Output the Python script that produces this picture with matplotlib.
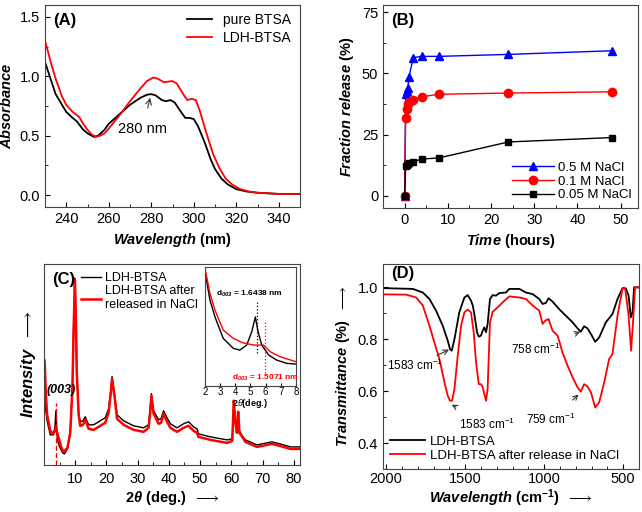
import matplotlib
matplotlib.use("Agg")
import matplotlib.pyplot as plt
from matplotlib.ticker import AutoMinorLocator, MultipleLocator

plt.rcParams['font.family'] = ['Liberation Sans', 'DejaVu Sans']
plt.rcParams['font.size'] = 10.5
plt.rcParams['mathtext.fontset'] = 'custom'
plt.rcParams['mathtext.rm'] = 'Liberation Sans'
plt.rcParams['mathtext.it'] = 'Liberation Sans:italic'
plt.rcParams['mathtext.bf'] = 'Liberation Sans:bold'
plt.rcParams['mathtext.bfit'] = 'Liberation Sans:italic:bold'
plt.rcParams['mathtext.fallback'] = 'stixsans'
plt.rcParams['xtick.direction'] = 'in'
plt.rcParams['ytick.direction'] = 'in'
plt.rcParams['axes.edgecolor'] = '#444444'

# ---- (A) UV-vis ----
uv_wl_black = [230, 235, 240, 243, 245, 248, 250, 253, 255, 258, 260, 265, 270, 275, 278, 280,
               282, 285, 287, 289, 291, 294, 296, 298, 300, 302, 305, 308, 310, 313, 316, 320,
               325, 330, 340, 350]
uv_abs_black = [1.12, 0.85, 0.70, 0.65, 0.62, 0.55, 0.52, 0.49, 0.50, 0.55, 0.60, 0.68, 0.76,
                0.82, 0.845, 0.85, 0.84, 0.80, 0.79, 0.80, 0.78, 0.70, 0.65, 0.65, 0.64, 0.58,
                0.45, 0.30, 0.22, 0.14, 0.09, 0.05, 0.03, 0.02, 0.01, 0.01]
uv_wl_red = [230, 233, 235, 238, 240, 243, 246, 248, 250, 252, 254, 256, 258, 260, 265, 270,
             275, 278, 281, 283, 286, 288, 290, 292, 295, 297, 299, 301, 303, 306, 309, 312,
             315, 318, 322, 326, 330, 340, 350]
uv_abs_red = [1.30, 1.10, 0.98, 0.83, 0.76, 0.70, 0.66, 0.60, 0.55, 0.51, 0.49, 0.50, 0.52,
              0.56, 0.67, 0.79, 0.90, 0.96, 0.99, 0.98, 0.95, 0.955, 0.96, 0.94, 0.85, 0.80,
              0.81, 0.80, 0.70, 0.52, 0.35, 0.23, 0.14, 0.09, 0.05, 0.03, 0.02, 0.01, 0.01]

# ---- (B) release ----
time_h = [0, 0.25, 0.5, 0.75, 1, 2, 4, 8, 24, 48]
rel_05 = [0, 41.5, 43, 44, 48.5, 56.5, 57, 57, 57.8, 59.3]
rel_01 = [0, 32, 35.5, 37.5, 38.5, 39, 40.5, 41.5, 42, 42.5]
rel_005 = [0, 12, 12.5, 13, 13.5, 14, 15, 15.5, 22, 23.8]

# ---- (C) XRD ----
xrd_2t_black = [0.2, 1.0, 2.0, 3.0, 3.5, 3.8, 4.1, 4.3, 5.0, 6.0, 6.5, 7.5, 8.4, 9.1, 9.5, 9.9,
                10.2, 10.5, 11.1, 11.6, 12.5, 13.2, 14.3, 15.9, 17.5, 19.6, 20.7, 21.4, 21.8,
                22.6, 23.4, 25.5, 28.7, 31.9, 33.5, 34.0, 34.4, 35.1, 36.7, 37.5, 38.3, 39.4,
                40.5, 42.6, 44.7, 46.3, 47.9, 49.0, 49.5, 53.3, 58.6, 60.3, 60.8, 61.3, 61.8,
                62.2, 62.6, 63.5, 64.5, 68.2, 73.0, 75.6, 78.9, 82.0]
xrd_int_black = [32, 22, 15, 15, 19, 27, 18, 12.5, 9, 6, 5.5, 8, 16, 39, 70, 93, 75, 47, 26,
                 21.5, 22, 24, 20, 20, 21.5, 23.5, 28, 37, 44, 35, 25, 22, 19.5, 18.5, 20, 28,
                 35.5, 27, 22.5, 23, 27, 23.5, 20.5, 18.5, 20.5, 21.5, 19, 18, 15.5, 14, 12.5,
                 13, 31, 22, 17, 25.5, 17, 14.5, 12.5, 10, 11.5, 10.5, 9, 9]
xrd_2t_red = [0.2, 0.6, 1.0, 2.0, 3.0, 3.8, 4.5, 5.5, 6.3, 7.5, 8.4, 9.1, 9.5, 9.9, 10.2, 10.5,
              11.1, 11.6, 12.5, 13.2, 14.3, 15.9, 17.5, 19.6, 20.7, 21.4, 21.8, 22.6, 23.4,
              25.5, 28.7, 31.9, 33.5, 34.0, 34.4, 35.1, 36.7, 37.5, 38.3, 39.4, 40.5, 42.6,
              44.7, 46.3, 47.9, 49.0, 49.5, 53.3, 58.6, 60.3, 60.8, 61.3, 61.8, 62.2, 62.6,
              63.5, 64.5, 68.2, 73.0, 75.6, 78.9, 82.0]
xrd_int_red = [52, 35, 25, 17, 15.5, 18.5, 14.5, 9, 6.5, 8.5, 16, 38, 68, 92, 74, 46, 25,
               19.5, 20, 22.5, 18, 17.5, 19, 21, 26, 36, 43, 34, 23, 20, 17.5, 16.5, 18.5, 26,
               34.5, 25.5, 20.5, 21, 25.5, 21.5, 18.5, 16.5, 18.5, 19.5, 17, 16, 14, 12.5, 11,
               12, 32, 21, 16, 26.5, 16, 14, 11.5, 9, 10.5, 9.5, 8, 8]

# inset (low angle)
ins_2t_black = [2.0, 2.33, 2.66, 3.2, 3.87, 4.3, 4.75, 5.08, 5.32, 5.5, 5.74, 6.2, 6.72, 7.4, 8.0]
ins_int_black = [96, 72, 58, 40, 31.6, 30.2, 34.4, 45.5, 58, 45.5, 34.4, 26, 21.8, 19, 18.4]
ins_2t_red = [2.0, 2.33, 2.66, 3.2, 3.87, 4.5, 5.2, 5.85, 6.3, 6.95, 8.0]
ins_int_red = [98.6, 77.7, 63.7, 47, 40, 36.3, 34.4, 34.4, 28.8, 24.6, 20.4]

# ---- (D) FTIR ----
ir_wn_black = [2021, 1831, 1768, 1726, 1684, 1642, 1610, 1596, 1585, 1568, 1537, 1505, 1484,
               1463, 1452, 1442, 1425, 1414, 1400, 1389, 1379, 1368, 1358, 1343, 1326, 1305,
               1284, 1242, 1221, 1157, 1115, 1073, 1031, 1010, 989, 972, 947, 905, 862, 820,
               789, 768, 747, 726, 704, 677, 652, 610, 568, 536, 504, 483, 466, 452, 441, 431,
               403]
ir_tr_black = [0.997, 0.994, 0.98, 0.955, 0.91, 0.852, 0.794, 0.762, 0.756, 0.80, 0.904, 0.961,
               0.97, 0.949, 0.93, 0.897, 0.827, 0.81, 0.814, 0.833, 0.846, 0.827, 0.859, 0.955,
               0.97, 0.968, 0.978, 0.98, 0.994, 0.994, 0.98, 0.974, 0.955, 0.936, 0.94, 0.958,
               0.945, 0.916, 0.89, 0.865, 0.842, 0.829, 0.85, 0.842, 0.82, 0.79, 0.807, 0.865,
               0.897, 0.955, 0.997, 0.996, 0.968, 0.884, 0.904, 1.0, 1.0]
ir_wn_red = [2021, 1874, 1810, 1768, 1726, 1695, 1663, 1631, 1610, 1596, 1583, 1568, 1547,
             1526, 1505, 1484, 1463, 1446, 1431, 1414, 1400, 1389, 1379, 1368, 1358, 1343,
             1326, 1294, 1263, 1221, 1157, 1115, 1073, 1031, 1010, 993, 972, 947, 915, 884,
             852, 820, 789, 768, 747, 726, 704, 677, 652, 620, 589, 568, 536, 504, 487, 466,
             450, 438, 425, 403]
ir_tr_red = [0.973, 0.972, 0.961, 0.93, 0.852, 0.788, 0.724, 0.634, 0.582, 0.563, 0.563, 0.608,
             0.737, 0.852, 0.904, 0.914, 0.904, 0.827, 0.711, 0.627, 0.627, 0.615, 0.589, 0.563,
             0.608, 0.865, 0.906, 0.923, 0.942, 0.965, 0.961, 0.955, 0.93, 0.91, 0.859, 0.872,
             0.878, 0.833, 0.814, 0.749, 0.698, 0.653, 0.615, 0.598, 0.627, 0.618, 0.595,
             0.537, 0.557, 0.634, 0.724, 0.743, 0.891, 0.997, 0.994, 0.891, 0.756, 0.865, 1.0,
             1.0]

W, H = 642, 512
fig = plt.figure(figsize=(6.42, 5.12), dpi=100)


def px_axes(x0, y0, x1, y1):
    return fig.add_axes([x0 / W, 1 - y1 / H, (x1 - x0) / W, (y1 - y0) / H])


ARROW = r'$\longrightarrow$'

axA = px_axes(45, 5, 300, 207)
axB = px_axes(383, 5, 638, 208)
axC = px_axes(44, 264, 300, 465)
axD = px_axes(383, 264, 639, 469)

# (A)
axA.plot(uv_wl_black, uv_abs_black, color='black', lw=1.3, label='pure BTSA')
axA.plot(uv_wl_red, uv_abs_red, color='red', lw=1.3, label='LDH-BTSA')
axA.set_xlim(230, 350)
axA.set_ylim(-0.1, 1.6)
axA.xaxis.set_major_locator(MultipleLocator(20))
axA.xaxis.set_minor_locator(AutoMinorLocator(2))
axA.yaxis.set_major_locator(MultipleLocator(0.5))
axA.yaxis.set_minor_locator(AutoMinorLocator(2))
axA.set_xlabel(r'$\mathbfit{Wavelength}$ (nm)', fontweight='bold')
axA.set_ylabel(r'$\mathbfit{Absorbance}$', fontweight='bold')
axA.legend(loc='upper right', frameon=False, handlelength=1.8, borderaxespad=0.2,
           labelspacing=0.25, fontsize=10)
axA.text(0.03, 0.96, '(A)', transform=axA.transAxes, fontweight='bold', fontsize=12, va='top')
axA.annotate('280 nm', xy=(279.5, 0.82), xytext=(276, 0.56), ha='center', va='center',
             arrowprops=dict(arrowstyle='->', color='#333333', lw=0.8, shrinkA=8, shrinkB=0))

# (B)
axB.plot(time_h, rel_05, color='blue', marker='^', ms=6, lw=1, label='0.5 M NaCl')
axB.plot(time_h, rel_01, color='red', marker='o', ms=6, lw=1, label='0.1 M NaCl')
axB.plot(time_h, rel_005, color='black', marker='s', ms=5, lw=1, label='0.05 M NaCl')
axB.set_xlim(-5, 54)
axB.set_ylim(-5, 78)
axB.xaxis.set_major_locator(MultipleLocator(10))
axB.xaxis.set_minor_locator(AutoMinorLocator(2))
axB.yaxis.set_major_locator(MultipleLocator(25))
axB.yaxis.set_minor_locator(AutoMinorLocator(2))
axB.set_xlabel(r'$\mathbfit{Time}$ (hours)', fontweight='bold')
axB.set_ylabel(r'$\mathbfit{Fraction\ release}$ (%)', fontweight='bold')
axB.legend(loc='lower right', frameon=False, handlelength=3.2, borderaxespad=0.1,
           labelspacing=0.12, handletextpad=0.3, fontsize=9.5)
axB.text(0.03, 0.96, '(B)', transform=axB.transAxes, fontweight='bold', fontsize=12, va='top')

# (C)
axC.plot(xrd_2t_red, xrd_int_red, color='red', lw=1.8, label='LDH-BTSA after\nreleased in NaCl',
         zorder=2)
axC.plot(xrd_2t_black, xrd_int_black, color='black', lw=1.0, label='LDH-BTSA', zorder=1)
axC.set_xlim(0, 82)
axC.set_ylim(0, 100)
axC.set_yticks([])
axC.set_xticks([10, 20, 30, 40, 50, 60, 70, 80])
axC.xaxis.set_minor_locator(MultipleLocator(5))
axC.tick_params(axis='x', pad=5)
axC.vlines(3.9, 0, 31, colors='red', linestyles='--', lw=1)
axC.text(5.6, 36, '(003)', fontsize=9, fontweight='bold', style='italic', ha='center')
axC.set_xlabel(r'2$\mathbfit{\theta}$ (deg.)  ' + ARROW, fontweight='bold', labelpad=2)
axC.set_ylabel(r'$\mathbfit{Intensity}$  ' + ARROW, fontweight='bold', fontsize=12)
h, l = axC.get_legend_handles_labels()
axC.legend(h[::-1], l[::-1], loc='upper left', bbox_to_anchor=(0.1, 1.015), frameon=False,
           handlelength=1.6, labelspacing=0.1, handletextpad=0.35, fontsize=9)
axC.text(0.03, 0.96, '(C)', transform=axC.transAxes, fontweight='bold', fontsize=12, va='top')

axIn = px_axes(205, 267, 296, 386)
axIn.plot(ins_2t_black, ins_int_black, color='black', lw=1)
axIn.plot(ins_2t_red, ins_int_red, color='red', lw=1)
axIn.set_xlim(2, 8)
axIn.set_ylim(0, 100)
axIn.set_yticks([])
axIn.xaxis.set_major_locator(MultipleLocator(1))
axIn.tick_params(labelsize=7, pad=1, length=2)
axIn.vlines(5.4, 28, 72, colors='black', linestyles=':', lw=0.9)
axIn.vlines(5.95, 11, 54, colors='red', linestyles=':', lw=0.9)
axIn.text(4.9, 77, r'd$_{\mathbfit{003}}$ = 1.6438 nm', fontsize=6, fontweight='bold',
          ha='center', va='center')
axIn.text(6.0, 7, r'd$_{\mathbfit{003}}$ = 1.5071 nm', fontsize=6, fontweight='bold',
          color='red', ha='center', va='center')
axIn.set_xlabel(r'2$\mathit{\theta}$(deg.)', fontsize=6.5, fontweight='bold', labelpad=0)

# (D)
axD.plot(ir_wn_black, ir_tr_black, color='black', lw=1.3, label='LDH-BTSA')
axD.plot(ir_wn_red, ir_tr_red, color='red', lw=1.3, label='LDH-BTSA after release in NaCl')
axD.set_xlim(2020, 400)
axD.set_ylim(0.3, 1.09)
axD.xaxis.set_major_locator(MultipleLocator(500))
axD.xaxis.set_minor_locator(MultipleLocator(100))
axD.yaxis.set_major_locator(MultipleLocator(0.2))
axD.yaxis.set_minor_locator(AutoMinorLocator(2))
axD.tick_params(axis='x', pad=2)
axD.set_xlabel(r'$\mathbfit{Wavelength}$ (cm$^{\mathbf{-1}}$)  ' + ARROW, fontweight='bold',
               labelpad=1)
axD.set_ylabel(r'$\mathbfit{Transmittance}$ (%)  ' + ARROW, fontweight='bold')
axD.legend(loc='lower left', frameon=False, handlelength=2.6, borderaxespad=0.15,
           labelspacing=0.15, handletextpad=0.4, fontsize=9.5)
axD.text(0.03, 0.99, '(D)', transform=axD.transAxes, fontweight='bold', fontsize=12, va='top')
arrow_kw = dict(arrowstyle='->', color='#333333', lw=0.8)
axD.annotate(r'1583 cm$^{-1}$', xy=(1602, 0.76), xytext=(1817, 0.698), fontsize=8.5,
             ha='center', va='center', arrowprops=dict(shrinkA=10, shrinkB=0, **arrow_kw))
axD.annotate(r'1583 cm$^{-1}$', xy=(1585, 0.548), xytext=(1364, 0.473), fontsize=8.5,
             ha='center', va='center', arrowprops=dict(shrinkA=10, shrinkB=0, **arrow_kw))
axD.annotate(r'758 cm$^{-1}$', xy=(772, 0.829), xytext=(1052, 0.762), fontsize=8.5,
             ha='center', va='center', arrowprops=dict(shrinkA=10, shrinkB=0, **arrow_kw))
axD.annotate(r'759 cm$^{-1}$', xy=(782, 0.587), xytext=(957, 0.49), fontsize=8.5,
             ha='center', va='center', arrowprops=dict(shrinkA=10, shrinkB=0, **arrow_kw))

fig.savefig('out.png', dpi=100)
